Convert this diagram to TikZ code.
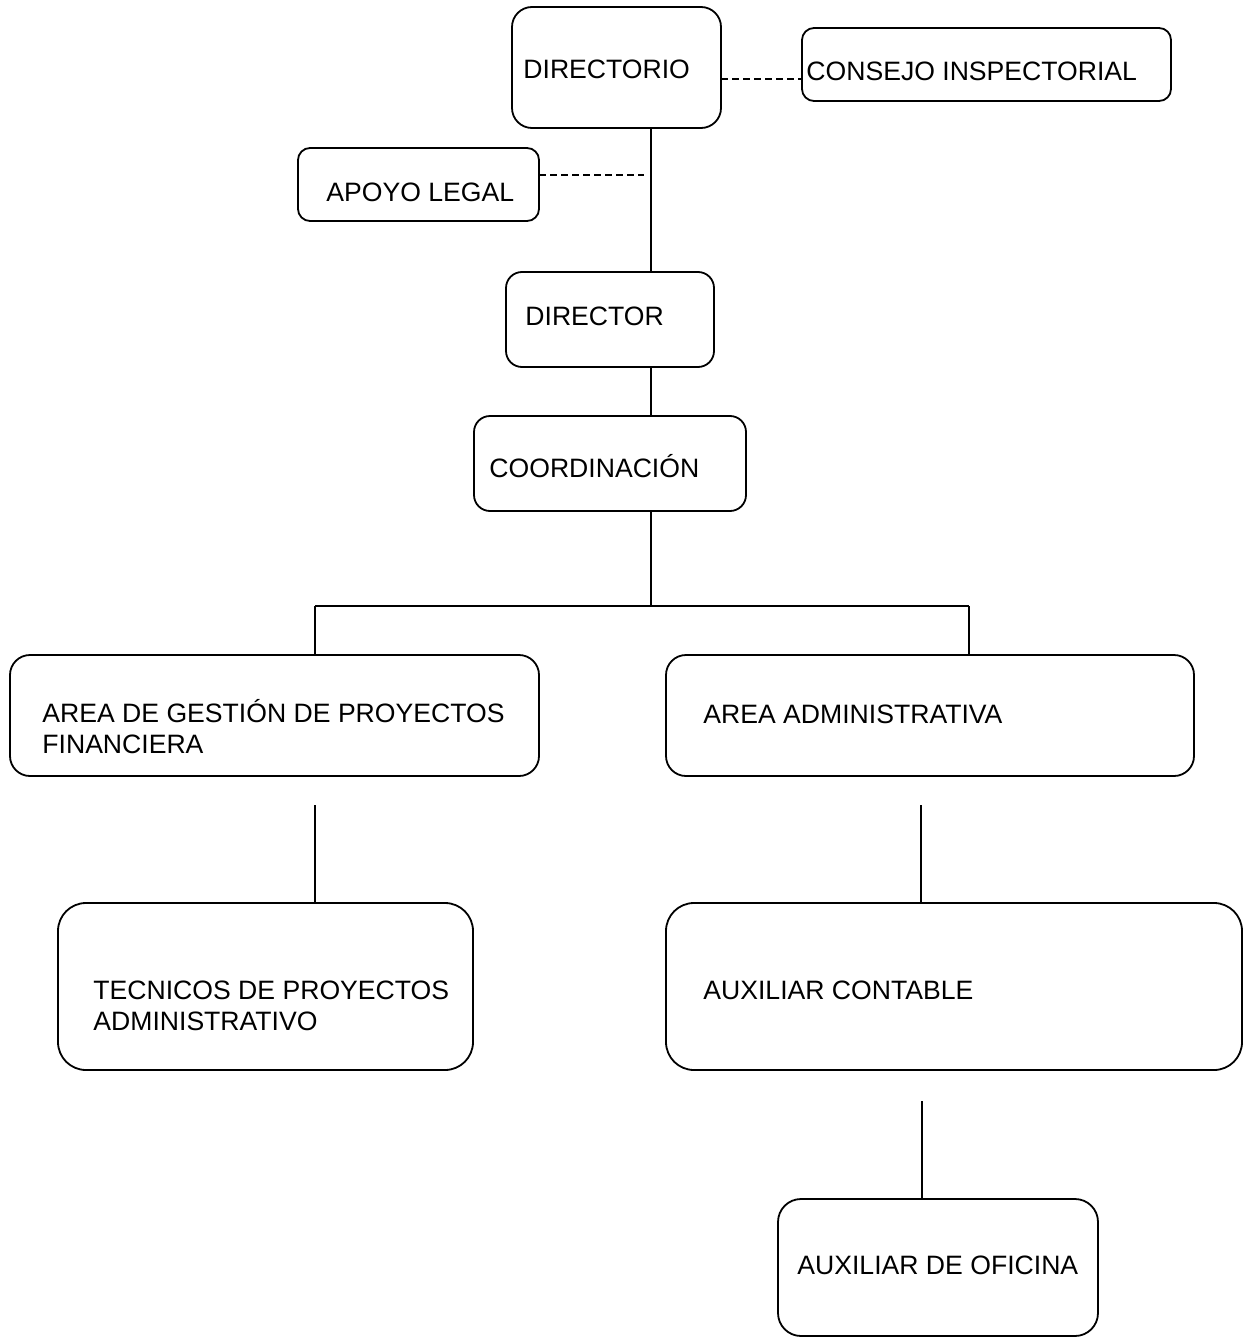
\documentclass[tikz,border=0pt]{standalone}
\usepackage{fontspec}
\setmainfont{Liberation Sans}
\begin{document}
\begin{tikzpicture}[x=0.5pt,y=-0.5pt,
  box/.style={draw=black, line width=0.9pt, inner sep=0pt, outer sep=0pt},
  lbl/.style={anchor=base west, inner sep=0pt, font=\fontsize{13.3}{15.2}\selectfont, align=left},
  link/.style={draw=black, line width=0.9pt},
  dashlink/.style={draw=black, line width=0.9pt, dash pattern=on 3.5pt off 2pt}]
\useasboundingbox (0,0) rectangle (1248,1337);
% boxes: corners given in px
\newcommand{\orgbox}[6]{% name, x1, y1, x2, y2, radius(px)
  \node[box, rounded corners=#6*0.5pt, minimum width={(#4-#2)*0.5pt}, minimum height={(#5-#3)*0.5pt}] (#1) at ({(#2+#4)/2},{(#3+#5)/2}) {};}
\orgbox{dir}{512}{7}{721}{128}{20}
\orgbox{cons}{802}{28}{1171}{101}{12}
\orgbox{apoyo}{298}{148}{539}{221}{12}
\orgbox{director}{506}{272}{714}{367}{16}
\orgbox{coord}{474}{416}{746}{511}{16}
\orgbox{areag}{10}{655}{539}{776}{20}
\orgbox{areaa}{666}{655}{1194}{776}{20}
\orgbox{tec}{58}{903}{473}{1070}{28}
\orgbox{auxc}{666}{903}{1242}{1070}{28}
\orgbox{auxo}{778}{1199}{1098}{1336}{23}
% labels (base west of the last line)
\node[lbl] (tdir) at (523,79) {DIRECTORIO};
\node[lbl] (tcons) at (806,81) {CONSEJO INSPECTORIAL};
\node[lbl] (tapoyo) at (326,202) {APOYO LEGAL};
\node[lbl] (tdirector) at (525,325) {DIRECTOR};
\node[lbl] (tcoord) at (489,477) {COORDINACIÓN};
\node[lbl] (tareag) at (42,753) {AREA DE GESTIÓN DE PROYECTOS\\FINANCIERA};
\node[lbl] (tareaa) at (703,723) {AREA ADMINISTRATIVA};
\node[lbl] (ttec) at (93,1030) {TECNICOS DE PROYECTOS\\ADMINISTRATIVO};
\node[lbl] (tauxc) at (703,999) {AUXILIAR CONTABLE};
\node[lbl] (tauxo) at (797,1274) {AUXILIAR DE OFICINA};
% helper coordinates
\coordinate (spine) at (651,0);
\coordinate (cy) at (0,79);
\coordinate (ay) at (0,175);
\coordinate (aend) at (644,175);
\coordinate (bus) at (0,606);
\coordinate (lx) at (315,0);
\coordinate (rx) at (969,0);
\coordinate (l2top) at (315,805);
\coordinate (r2x) at (921,0);
\coordinate (r2top) at (921,805);
\coordinate (r3x) at (922,0);
\coordinate (r3top) at (922,1101);
% connectors
\draw[dashlink] (dir.east |- cy) -- (cons.west |- cy);
\draw[dashlink] (apoyo.east |- ay) -- (aend);
\draw[link] (dir.south -| spine) -- (director.north -| spine);
\draw[link] (director.south -| spine) -- (coord.north -| spine);
\draw[link] (coord.south -| spine) -- (bus -| spine);
\draw[link] (bus -| lx) -- (bus -| rx);
\draw[link] (bus -| lx) -- (areag.north -| lx);
\draw[link] (bus -| rx) -- (areaa.north -| rx);
\draw[link] (l2top) -- (tec.north -| lx);
\draw[link] (r2top) -- (auxc.north -| r2x);
\draw[link] (r3top) -- (auxo.north -| r3x);
\end{tikzpicture}
\end{document}
